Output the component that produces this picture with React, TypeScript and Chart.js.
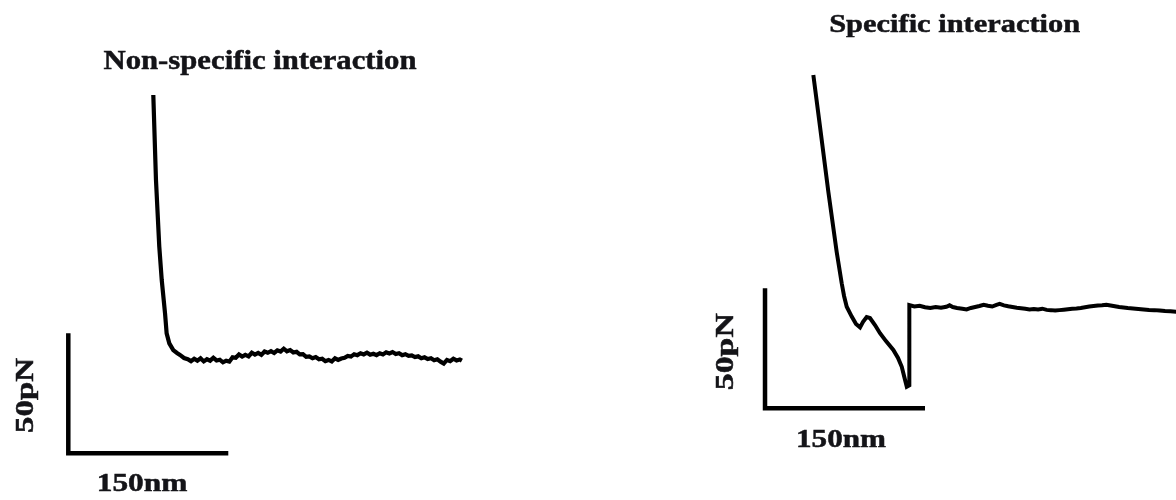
import { useEffect, useRef } from "react";
import { Chart, registerables } from "chart.js";

Chart.register(...registerables);

const leftTitle = "Non-specific interaction";
const rightTitle = "Specific interaction";
const forceBarLabel = "50pN";
const distanceBarLabel = "150nm";
const scaleBarForcePn = 50;
const scaleBarDistanceNm = 150;

const leftDistanceNm = [
  79.7, 82.2, 85.3, 87.6, 90.7, 92.2, 94.7, 98.4, 101.9, 104.7, 108.5,
  112, 115, 118, 121, 124, 127, 130, 133, 136, 139, 142, 145, 148, 151, 154,
  157, 160, 163, 166, 169, 172, 175, 178, 181, 184, 187, 190, 193, 196, 199,
  202, 205, 208, 211, 214, 217, 220, 223, 226, 229, 232, 235, 238, 241, 244,
  247, 250, 253, 256, 259, 262, 265, 268, 271, 274, 277, 280, 283, 286, 289,
  292, 295, 298, 301, 304, 307, 310, 313, 316, 319, 322, 325, 328, 331, 334,
  337, 340, 343, 346, 349, 352, 355, 358, 361, 364, 367, 369,
];
const leftForcePn = [
  149.3, 113.9, 86.1, 72.2, 58.3, 50.0, 45.8, 43.0, 41.8, 41.0, 39.7,
  39.2, 38.4, 39.4, 38.6, 39.6, 38.3, 39.2, 38.6, 39.8, 38.7, 39.0, 37.9, 38.6, 38.2, 40.0,
  39.8, 41.2, 40.3, 41.0, 40.4, 41.9, 41.1, 41.8, 41.0, 42.4, 41.9, 42.6, 41.8, 42.9, 42.4,
  43.6, 42.5, 43.0, 42.0, 42.3, 41.2, 41.3, 40.2, 40.4, 39.6, 40.1, 39.2, 39.4, 38.4, 38.9,
  38.3, 39.6, 38.9, 39.5, 39.8, 40.6, 40.3, 41.3, 40.9, 41.7, 41.2, 41.9, 41.1, 41.5, 40.9,
  41.7, 41.2, 42.1, 41.6, 42.2, 41.4, 41.7, 40.9, 41.3, 40.6, 40.8, 40.1, 40.4, 39.6, 40.0,
  39.3, 39.6, 38.8, 39.2, 38.2, 37.4, 38.9, 38.4, 39.4, 38.7, 39.1, 38.6,
];

const rightDistanceNm = [
  45.3, 51.6, 59.4, 67.2, 71.9, 74.1, 76.6, 81.3, 85.3, 89.1, 91.9, 95.3, 98.4,
  103.1, 107.8, 113.4, 120.3, 124.7, 128.2, 131.3, 132.9, 135.3, 135.3,
  140, 145, 150, 155, 160, 165, 170, 173, 176, 180, 185, 189, 193, 197, 201,
  205, 209, 213, 217, 220, 224, 228, 232, 236, 240, 244, 248, 252, 256, 260,
  264, 268, 272, 276, 280, 284, 288, 292, 296, 300, 304, 308, 312, 316, 320,
  324, 328, 332, 336, 340, 345, 350, 355, 360, 365, 370, 375, 380, 386,
];
const rightForcePn = [
  138.9, 117.2, 90.1, 65.1, 52.1, 46.8, 42.3, 38.2, 35.1, 33.7, 36.0, 38.0, 37.6,
  34.7, 31.3, 28.0, 24.3, 21.0, 17.3, 11.8, 9.0, 9.6, 43.0,
  42.4, 42.7, 42.1, 41.8, 42.2, 41.9, 42.3, 42.9, 42.2, 41.8, 41.5, 41.2, 41.8, 42.2, 42.6,
  43.1, 42.7, 42.4, 43.1, 43.5, 42.9, 42.5, 42.2, 41.9, 41.7, 41.5, 41.2, 41.4, 41.2, 41.5,
  41.0, 40.9, 40.7, 40.9, 41.1, 41.3, 41.5, 41.6, 41.8, 42.1, 42.4, 42.6, 42.8, 42.9, 43.1,
  42.8, 42.5, 42.2, 42.0, 41.8, 41.6, 41.4, 41.2, 41.0, 40.9, 40.7, 40.5, 40.4, 40.2,
];

type TextSpec = {
  text: string;
  x: number;
  y: number;
  width: number;
  size: number;
  vertical?: boolean;
};

const textSpecs: TextSpec[] = [
  { text: leftTitle, x: 260, y: 69.3, width: 313, size: 28 },
  { text: rightTitle, x: 954.7, y: 31.7, width: 251, size: 26 },
  { text: distanceBarLabel, x: 142, y: 490.7, width: 90.6, size: 26 },
  { text: distanceBarLabel, x: 841, y: 446.7, width: 90, size: 26 },
  { text: forceBarLabel, x: 33.3, y: 395.5, width: 75, size: 25.5, vertical: true },
  { text: forceBarLabel, x: 733.3, y: 351.7, width: 77, size: 25.5, vertical: true },
];

const FONT_FAMILY = '"Liberation Serif", "Times New Roman", serif';

const annotatePlugin = {
  id: "annotate",
  afterDraw(chart: any) {
    const ctx: CanvasRenderingContext2D = chart.ctx;
    const s = chart.scales;
    const drawBar = (xs: any, ys: any) => {
      const x0 = xs.getPixelForValue(0);
      const x1 = xs.getPixelForValue(scaleBarDistanceNm);
      const y0 = ys.getPixelForValue(0);
      const y1 = ys.getPixelForValue(scaleBarForcePn);
      ctx.save();
      ctx.strokeStyle = "#000";
      ctx.lineWidth = 4.5;
      ctx.lineJoin = "miter";
      ctx.lineCap = "butt";
      ctx.beginPath();
      ctx.moveTo(x0, y1);
      ctx.lineTo(x0, y0);
      ctx.lineTo(x1, y0);
      ctx.stroke();
      ctx.restore();
    };
    drawBar(s.xL, s.yL);
    drawBar(s.xR, s.yR);

    for (const t of textSpecs) {
      ctx.save();
      ctx.font = `bold ${t.size}px ${FONT_FAMILY}`;
      ctx.fillStyle = "#141418";
      ctx.strokeStyle = "#141418";
      ctx.lineWidth = 0.5;
      const w = ctx.measureText(t.text).width;
      const sx = t.width / w;
      ctx.translate(t.x, t.y);
      if (t.vertical) ctx.rotate(-Math.PI / 2);
      ctx.scale(sx, 1);
      ctx.textAlign = "center";
      ctx.textBaseline = "alphabetic";
      ctx.fillText(t.text, 0, 0);
      ctx.strokeText(t.text, 0, 0);
      ctx.restore();
    }
  },
};

export default function App() {
  const ref = useRef<HTMLCanvasElement | null>(null);

  useEffect(() => {
    if (!ref.current) return;
    const chart = new Chart(ref.current, {
      type: "line",
      data: {
        datasets: [
          {
            label: leftTitle,
            data: leftDistanceNm.map((x, i) => ({ x, y: leftForcePn[i] })),
            xAxisID: "xL",
            yAxisID: "yL",
            borderColor: "#000",
            borderWidth: 4.2,
            pointRadius: 0,
            tension: 0,
            fill: false,
          },
          {
            label: rightTitle,
            data: rightDistanceNm.map((x, i) => ({ x, y: rightForcePn[i] })),
            xAxisID: "xR",
            yAxisID: "yR",
            borderColor: "#000",
            borderWidth: 4,
            pointRadius: 0,
            tension: 0,
            fill: false,
          },
        ],
      },
      options: {
        animation: false,
        responsive: false,
        layout: { padding: 0 },
        plugins: {
          legend: { display: false },
          title: { display: false },
          tooltip: { enabled: false },
        },
        scales: {
          xL: { type: "linear", display: false, min: -64.03, max: 1038.5 },
          yL: { type: "linear", display: false, min: -19.46, max: 188.9 },
          xR: { type: "linear", display: false, min: -717.2, max: 385.3 },
          yR: { type: "linear", display: false, min: -38.2, max: 170.1 },
        },
      },
      plugins: [annotatePlugin],
    });
    return () => {
      chart.destroy();
    };
  }, []);

  return (
    <div
      style={{
        position: "fixed",
        left: 0,
        top: 0,
        width: 1176,
        height: 500,
        background: "#fff",
      }}
    >
      <canvas
        ref={ref}
        width={1176}
        height={500}
        style={{ display: "block", width: 1176, height: 500 }}
      />
    </div>
  );
}
